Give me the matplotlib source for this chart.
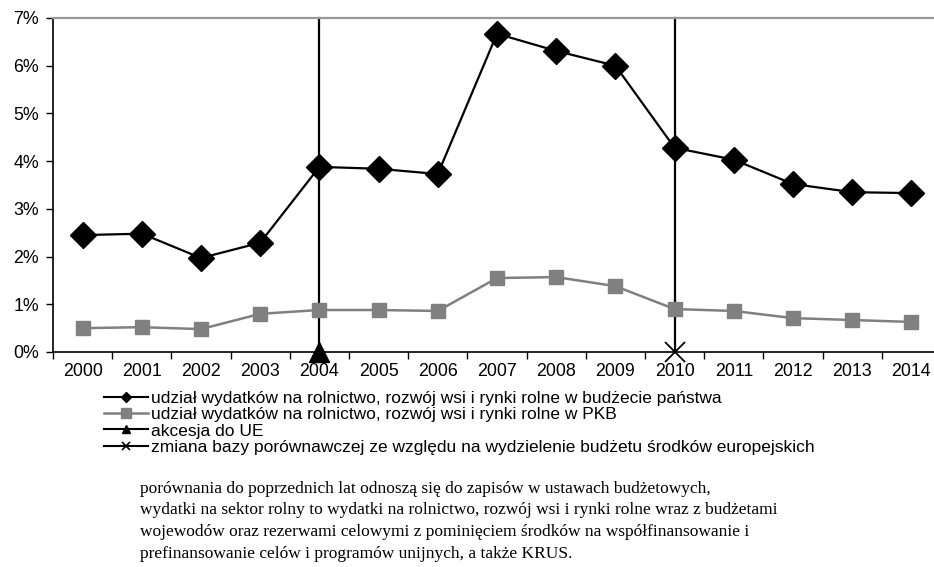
import matplotlib
matplotlib.use("Agg")
import matplotlib.pyplot as plt
from matplotlib.lines import Line2D
from matplotlib.ticker import FixedLocator, FuncFormatter

plt.rcParams['font.family'] = ['Liberation Sans', 'DejaVu Sans']

years = ['2000', '2001', '2002', '2003', '2004', '2005', '2006', '2007',
         '2008', '2009', '2010', '2011', '2012', '2013', '2014']
budget_share = [2.45, 2.48, 1.97, 2.29, 3.88, 3.84, 3.73, 6.67,
                6.31, 6.00, 4.28, 4.03, 3.52, 3.35, 3.33]
gdp_share = [0.50, 0.52, 0.48, 0.80, 0.88, 0.88, 0.86, 1.55,
             1.57, 1.38, 0.90, 0.86, 0.71, 0.67, 0.63]
eu_accession = '2004'
base_change = '2010'

labels = [
    'udział wydatków na rolnictwo, rozwój wsi i rynki rolne w budżecie państwa',
    'udział wydatków na rolnictwo, rozwój wsi i rynki rolne w PKB',
    'akcesja do UE',
    'zmiana bazy porównawczej ze względu na wydzielenie budżetu środków europejskich',
]
note_lines = [
    'porównania do poprzednich lat odnoszą się do zapisów w ustawach budżetowych,',
    'wydatki na sektor rolny to wydatki na rolnictwo, rozwój wsi i rynki rolne wraz z budżetami',
    'wojewodów oraz rezerwami celowymi z pominięciem środków na współfinansowanie i',
    'prefinansowanie celów i programów unijnych, a także KRUS.',
]

fig = plt.figure(figsize=(9.34, 5.67), dpi=100)
ax = fig.add_axes([53 / 934, 1 - 352 / 567, 888 / 934, 334 / 567])

x = list(range(len(years)))
i_eu = years.index(eu_accession)
i_base = years.index(base_change)

ax.plot([i_eu, i_eu], [0, 7], color='black', lw=1.6, marker='^',
        markevery=[0], markersize=14, clip_on=False, zorder=2)
ax.plot([i_base, i_base], [0, 7], color='black', lw=1.6, marker='x',
        markevery=[0], markersize=14, mew=1.3, clip_on=False, zorder=2)
ax.plot(x, budget_share, color='black', lw=1.6, marker='D', markersize=13,
        zorder=3)
ax.plot(x, gdp_share, color='#808080', lw=1.8, marker='s', markersize=10,
        zorder=3)

ax.set_xlim(-0.5, len(years) - 0.5)
ax.set_ylim(0, 7)
ax.yaxis.set_major_locator(FixedLocator(range(8)))
ax.yaxis.set_major_formatter(FuncFormatter(lambda v, p: f'{v:.0f}%'))
ax.set_xticks(x)
ax.set_xticklabels(years)
ax.set_xticks([i - 0.5 for i in range(len(years) + 1)], minor=True)
ax.tick_params(axis='x', which='major', length=0, pad=8, labelsize=12.8)
ax.tick_params(axis='x', which='minor', length=5, width=1, direction='out')
ax.tick_params(axis='y', length=5, width=1, direction='out', pad=5,
               labelsize=12.8)

ax.spines['right'].set_visible(False)
ax.spines['top'].set_color('#999999')
ax.spines['top'].set_linewidth(1.6)
ax.spines['left'].set_linewidth(1.2)
ax.spines['bottom'].set_linewidth(1.2)

# legend handles, small markers
handles = [
    Line2D([], [], color='black', lw=1.5, marker='D', markersize=5),
    Line2D([], [], color='#808080', lw=1.8, marker='s', markersize=7),
    Line2D([], [], color='black', lw=1.5, marker='^', markersize=6),
    Line2D([], [], color='black', lw=1.5, marker='x', markersize=6, mew=1.2),
]
fig.legend(handles, labels, loc='upper left',
           bbox_to_anchor=(104 / 934, 1 - 391 / 567), frameon=False,
           fontsize=12.5, handlelength=2.55, handletextpad=0.15,
           labelspacing=0.06, borderpad=0, borderaxespad=0)

for k, line in enumerate(note_lines):
    fig.text(140 / 934, 1 - (489 + 21.5 * k) / 567, line,
             family=['Liberation Serif', 'DejaVu Serif'], fontsize=12.5,
             va='center', ha='left')

fig.savefig('out.png', dpi=100)
